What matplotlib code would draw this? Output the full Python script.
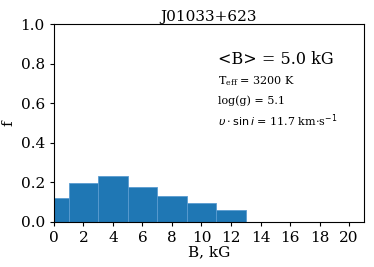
import numpy as np
import matplotlib
matplotlib.use('Agg')
import matplotlib.pyplot as plt

#histogram of field strength
edges = [0, 1, 3, 5, 7, 9, 11, 13]
frac = [0.12, 0.195, 0.23, 0.175, 0.13, 0.095, 0.06]
title = 'J01033+623'
info = [r'$\mathregular{T_{eff}}$ = 3200 K', 'log(g) = 5.1',
        r'$\upsilon \cdot \sin i$ = 11.7 km$\cdot$s$^{-1}$']

plt.rcParams['font.family'] = 'DejaVu Serif'
plt.rcParams['mathtext.fontset'] = 'dejavusans'

fig = plt.figure(figsize=(3.74, 2.67), dpi=100)
ax = fig.add_axes([0.144, 0.169, 0.829, 0.741])

widths = np.diff(edges)
ax.bar(edges[:-1], frac, width=widths, align='edge', color='#1f77b4',
       edgecolor='#5a9bd0', linewidth=0.6)

ax.set_xlim(0, 21)
ax.set_ylim(0, 1.0)
ax.set_xticks(np.arange(0, 21, 2))
ax.set_yticks(np.arange(0, 1.01, 0.2))
ax.tick_params(labelsize=11, length=3)
ax.set_xlabel('B, kG', fontsize=11, labelpad=0)
ax.set_ylabel('f', fontsize=11)
ax.set_title(title, fontsize=11, pad=2)

ax.text(11.1, 0.8, '<B> = 5.0 kG', fontsize=11.5)
for i, s in enumerate(info):
    ax.text(11.1, 0.71 - 0.1 * i, s, fontsize=8, va='center',
            family=['DejaVu Serif'])

fig.savefig('out.png', dpi=100)
